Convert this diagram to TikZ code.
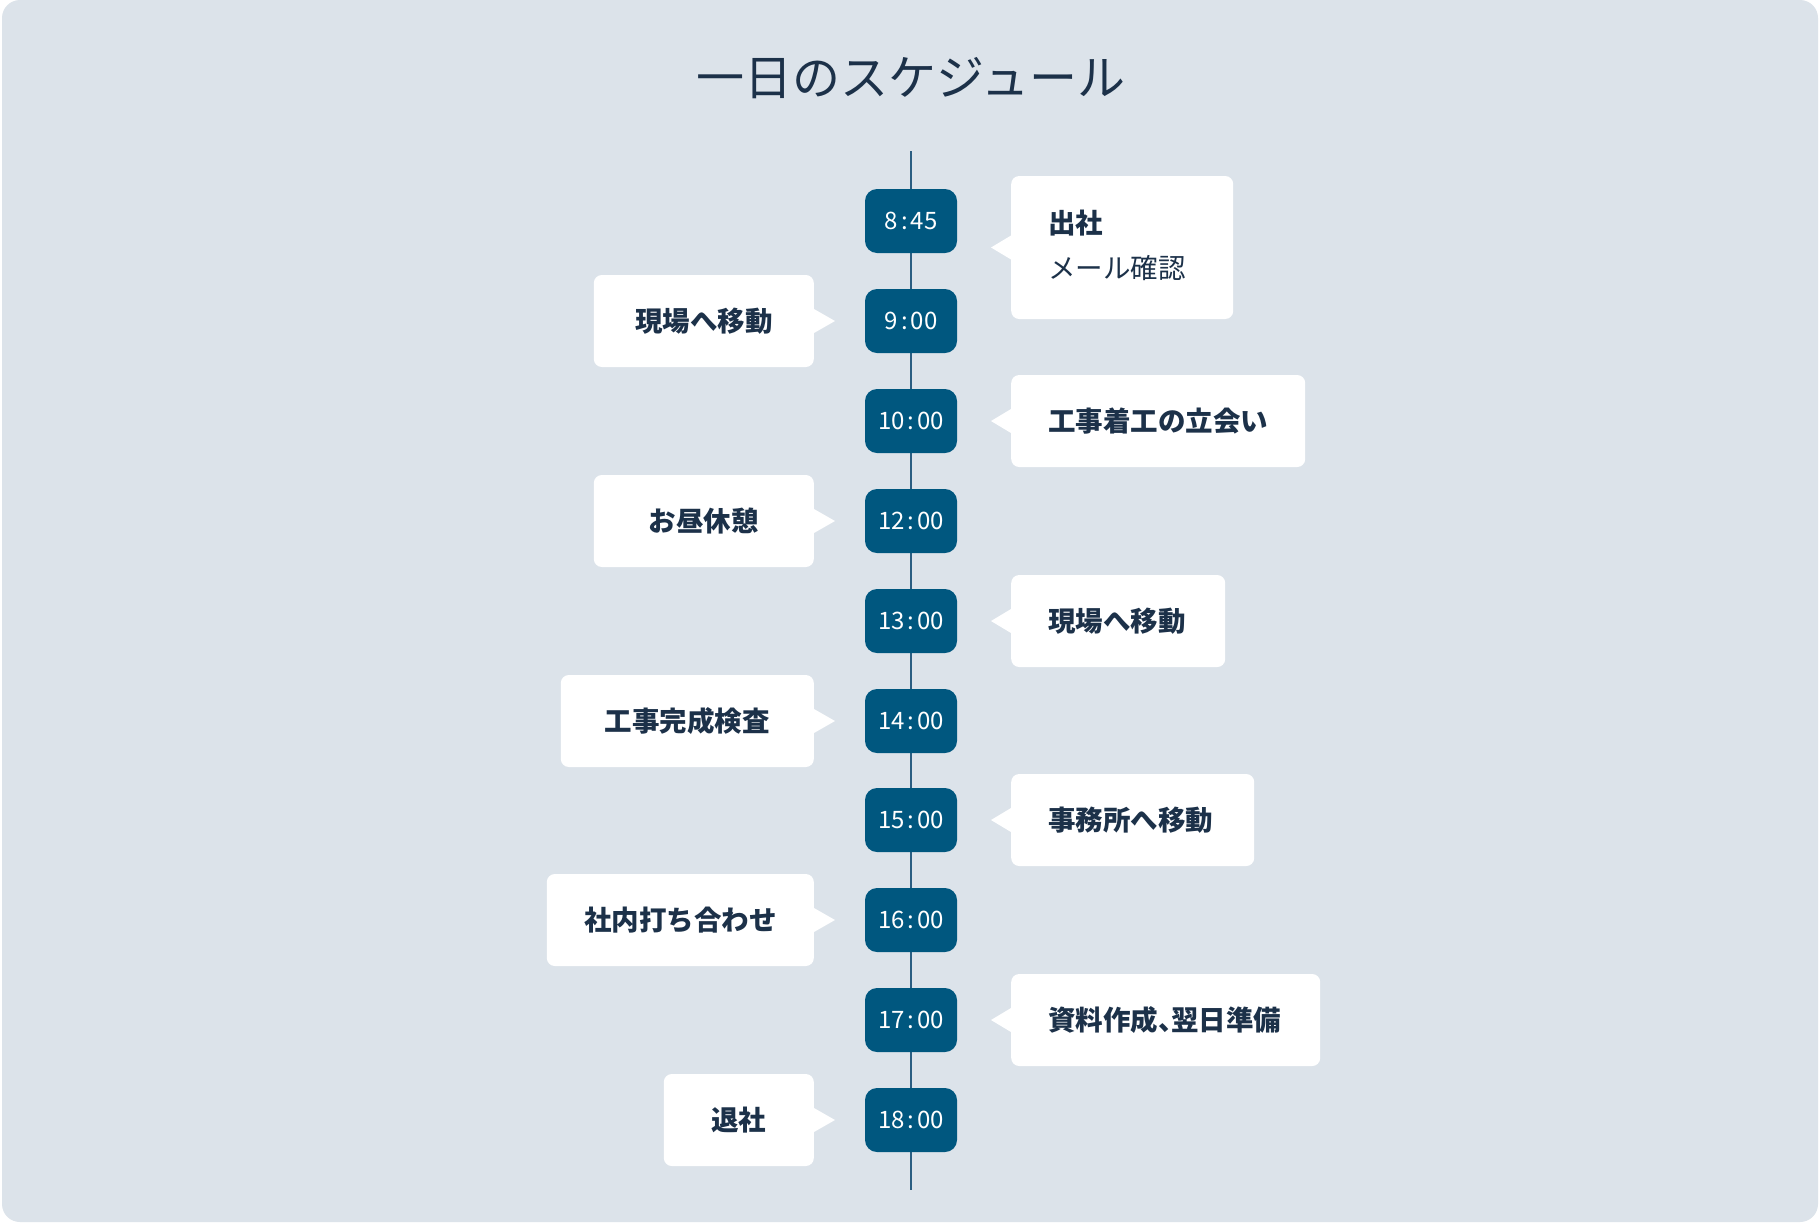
\documentclass[tikz,border=0pt]{standalone}
\usepackage{fontspec}
\setmainfont{Noto Sans CJK JP}
\definecolor{panel}{HTML}{DCE3EA}
\definecolor{navy}{HTML}{00577F}
\definecolor{ink}{HTML}{1C3149}
\definecolor{axis}{HTML}{2B5E82}
\tikzset{
  timebox/.style={fill=navy, text=white, rounded corners=12pt, minimum width=92pt,
    minimum height=64pt, inner sep=0pt, font=\fontsize{24}{28}\selectfont},
  bubble/.style={fill=white, rounded corners=8pt, minimum height=92pt, inner ysep=0pt,
    text=ink, font=\fontsize{27.5}{33}\selectfont\bfseries},
  leftbubble/.style={bubble, anchor=east, align=center, inner xsep=0pt, text width=#1},
  rightbubble/.style={bubble, anchor=west, align=left, inner xsep=37pt, text width=#1},
}
\newcommand{\tcolon}{\kern3pt:\kern3pt}
\begin{document}
\begin{tikzpicture}[x=1pt, y=-1pt]
% Hintergrund
\fill[white] (0,0) rectangle (1820,1224);
\fill[panel, rounded corners=18pt] (2,0) rectangle (1818,1222);

% Titel
\node[text=ink, font=\fontsize{48}{54}\selectfont] (title) at (911,78) {一日のスケジュール};

% Zeitachse
\coordinate (top) at (911,151);
\coordinate (bottom) at (911,1190);
\draw[axis, line width=1.2pt] (top) -- (bottom);

% Uhrzeiten
\node[timebox] (t1) at (911,221) {8\tcolon 45};
\node[timebox] (t2) at (911,321) {9\tcolon 00};
\node[timebox] (t3) at (911,421) {10\tcolon 00};
\node[timebox] (t4) at (911,521) {12\tcolon 00};
\node[timebox] (t5) at (911,621) {13\tcolon 00};
\node[timebox] (t6) at (911,721) {14\tcolon 00};
\node[timebox] (t7) at (911,820) {15\tcolon 00};
\node[timebox] (t8) at (911,920) {16\tcolon 00};
\node[timebox] (t9) at (911,1020) {17\tcolon 00};
\node[timebox] (t10) at (911,1120) {18\tcolon 00};

% Sprechblasen rechts
\node[rightbubble=148pt, minimum height=143pt] (r1) at (1011,247.5)
  {出社\\[12pt]\mdseries メール確認\\[-26pt]\mbox{}};
\node[rightbubble=220pt] (r2) at (1011,421) {工事着工の立会い};
\node[rightbubble=140pt] (r3) at (1011,621) {現場へ移動};
\node[rightbubble=169pt] (r4) at (1011,820) {事務所へ移動};
\node[rightbubble=235pt] (r5) at (1011,1020) {資料作成\makebox[13pt][l]{、}翌日準備};

% Sprechblasen links
\node[leftbubble=220pt] (l1) at (814,321) {現場へ移動};
\node[leftbubble=220pt] (l2) at (814,521) {お昼休憩};
\node[leftbubble=253pt] (l3) at (814,721) {工事完成検査};
\node[leftbubble=267pt] (l4) at (814,920) {社内打ち合わせ};
\node[leftbubble=150pt] (l5) at (814,1120) {退社};

% Spitzen
\foreach \b in {r1,r2,r3,r4,r5}
  \fill[white] ([yshift=12pt]\b.west) -- ([xshift=-20pt]\b.west) -- ([yshift=-12pt]\b.west) -- cycle;
\foreach \b in {l1,l2,l3,l4,l5}
  \fill[white] ([yshift=12pt]\b.east) -- ([xshift=21pt]\b.east) -- ([yshift=-12pt]\b.east) -- cycle;
\end{tikzpicture}
\end{document}
